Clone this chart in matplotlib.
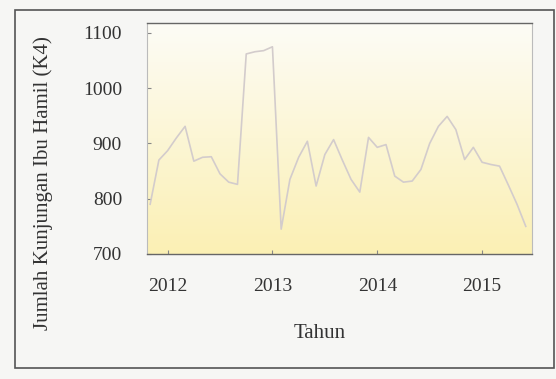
import matplotlib
matplotlib.use("Agg")
import matplotlib.pyplot as plt
import numpy as np
from matplotlib.patches import Rectangle

# Monthly K4 visits (first point ~ Nov 2011)
start_year = 2011 + 10 / 12
k4_visits = [790, 870, 887, 910, 931, 868, 875, 876, 845, 830, 826,
             1062, 1066, 1068, 1075, 745, 835, 875, 904, 823, 880, 907,
             870, 835, 812, 911, 893, 898, 841, 830, 832, 853, 900, 931,
             949, 925, 871, 893, 866, 862, 859, 825, 790, 750]
year_ticks = [2012, 2013, 2014, 2015]
value_ticks = [700, 800, 900, 1000, 1100]

x = start_year + np.arange(len(k4_visits)) / 12

plt.rcParams['font.family'] = ['Liberation Serif', 'DejaVu Serif']

fig = plt.figure(figsize=(5.56, 3.79), dpi=100)
fig.patch.set_facecolor('#f6f6f4')

# outer frame of the scanned figure
fig.patches.append(Rectangle((15 / 556, 1 - 368 / 379), 539 / 556, 358 / 379,
                             transform=fig.transFigure, fill=False,
                             edgecolor='#555555', linewidth=1.2))

ax = fig.add_axes([147 / 556, 1 - 254 / 379, 385 / 556, 231 / 379])

# white-to-yellow gradient background
grad = np.linspace(0, 1, 256).reshape(-1, 1)
cmap = matplotlib.colors.LinearSegmentedColormap.from_list(
    'bg', ['#fdfcf6', '#fbf0b4'])
ax.imshow(grad, extent=[0, 1, 0, 1], transform=ax.transAxes, cmap=cmap,
          aspect='auto', origin='upper', zorder=0)

ax.plot(x, k4_visits, color='#d3cccc', linewidth=1.2, zorder=2)

ax.set_xlim(start_year - 0.03, 2015 + 50 / 105)
ax.set_ylim(700, 1118)
ax.set_xticks(year_ticks)
ax.set_yticks(value_ticks)
ax.tick_params(direction='in', length=3, color='#888888',
               labelsize=14, labelcolor='#333333')
ax.tick_params(axis='y', pad=18)
ax.tick_params(axis='x', pad=17)

for side in ['left', 'right']:
    ax.spines[side].set_color('#bbbbbb')
    ax.spines[side].set_linewidth(0.8)
for side in ['top', 'bottom']:
    ax.spines[side].set_color('#666666')
    ax.spines[side].set_linewidth(1.0)

fig.text(43 / 556, 1 - 183 / 379, 'Jumlah Kunjungan Ibu Hamil (K4)',
         rotation=90, ha='center', va='center', fontsize=15, color='#333333')
fig.text(320 / 556, 1 - 333 / 379, 'Tahun', ha='center', va='center',
         fontsize=15, color='#333333')

fig.savefig('out.png', dpi=100, facecolor=fig.get_facecolor())
